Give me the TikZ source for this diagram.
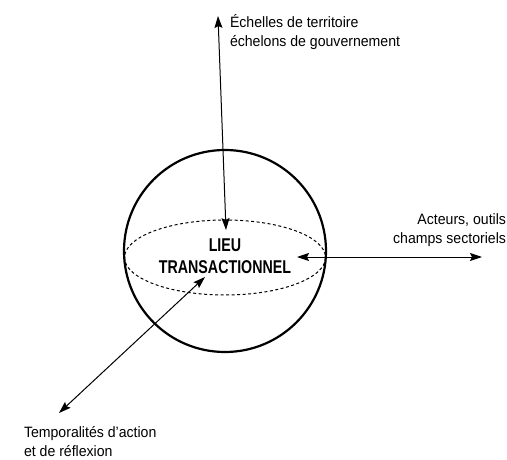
\documentclass[tikz,border=0pt]{standalone}
\usepackage{fontspec}
\setmainfont[FakeStretch=0.94]{Liberation Sans}
\newfontfamily\lieufont[FakeStretch=0.77]{Liberation Sans Bold}
\usetikzlibrary{calc, shapes, arrows.meta}
\newcommand{\mytextfont}{\fontsize{15}{19}\selectfont}
\newcommand{\mylieufont}{\lieufont\fontsize{18.5}{21.6}\selectfont}

\begin{document}
\begin{tikzpicture}[x=1pt,y=-1pt]
				%Frame
				\useasboundingbox (0,0) rectangle (507,460);
				\tikzset{
					fleche/.style={{Stealth[length=12pt,width=8pt,inset=2pt]}-{Stealth[length=12pt,width=8pt,inset=2pt]}, line width=1pt},
					etiquette/.style={inner sep=0pt, outer sep=0pt, font=\mytextfont}
				}
				%The sphere
				\coordinate (centre) at (225,251);
				\draw [line width=2.2pt] (centre) circle [radius=101];
				%Equator drawn dotted
				\coordinate (equateur) at (225,257.5);
				\draw [line width=1pt, dash pattern=on 3pt off 2.5pt] (equateur) ellipse [x radius=100.5, y radius=37.5];
				%Text in the middle
				\node [etiquette, font=\mylieufont, align=center] (lieu) at (225,256) {LIEU\\TRANSACTIONNEL};
				%Labels at the ends (base = last line)
				\node [etiquette, anchor=base west, align=left] (echelles) at (230,46.7) {Échelles de territoire\\échelons de gouvernement};
				\node [etiquette, anchor=base east, align=right] (acteurs) at (506,243.3) {Acteurs, outils\\champs sectoriels};
				\node [etiquette, anchor=base west, align=left] (temporalites) at (24,456.7) {Temporalités d’action\\et de réflexion};
				%Ends of the arrows
				\coordinate (hautA) at (218,16);
				\coordinate (hautB) at (226,230);
				\coordinate (droiteA) at (297,257);
				\coordinate (droiteB) at (482,257);
				\coordinate (basA) at (59,413);
				\coordinate (basB) at (205,277);
				\draw [fleche] (hautA) -- (hautB);
				\draw [fleche] (droiteA) -- (droiteB);
				\draw [fleche] (basA) -- (basB);
				\end{tikzpicture}
\end{document}
